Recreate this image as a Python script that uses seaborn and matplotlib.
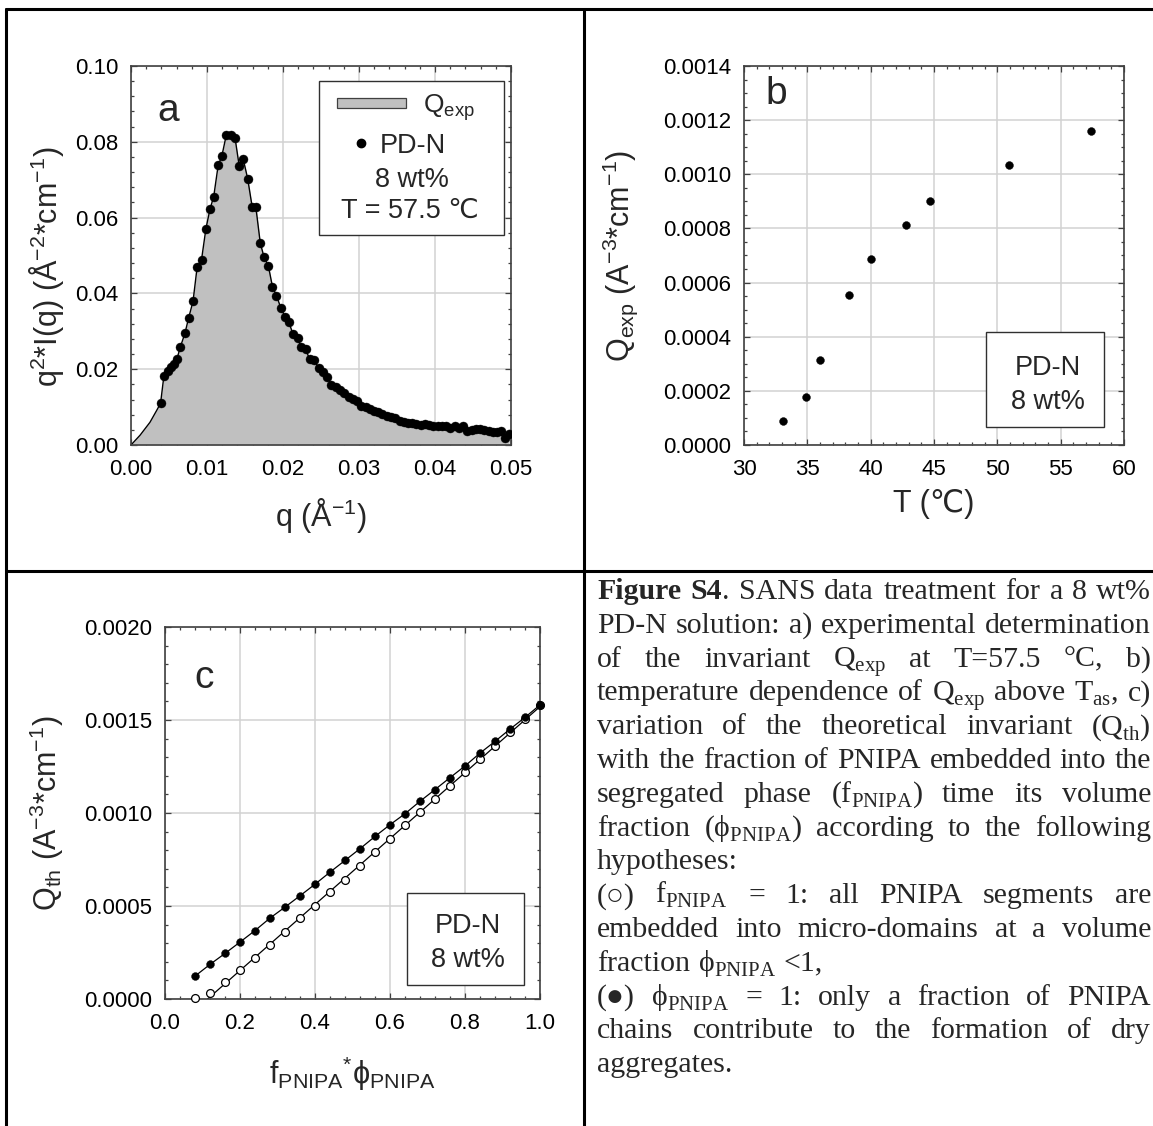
import numpy as np
import pandas as pd
import matplotlib
matplotlib.use("Agg")
import matplotlib.pyplot as plt
import seaborn as sns
from matplotlib.patches import Rectangle
from matplotlib.lines import Line2D
from matplotlib.ticker import MultipleLocator, FormatStrFormatter

# ---------------- data ----------------
# (a) Kratky representation q^2*I(q) of PD-N, 8 wt%, T = 57.5 C
q_a = [0.00389, 0.00432, 0.00481, 0.00525, 0.00564, 0.00603, 0.0065, 0.0071, 0.00758, 0.00816,
       0.0087, 0.00928, 0.00986, 0.0104, 0.01088, 0.01147, 0.01195, 0.01254, 0.01317, 0.0137,
       0.01424, 0.01477, 0.01535, 0.01594, 0.01642, 0.01701, 0.01749, 0.01808, 0.01861, 0.01914,
       0.01973, 0.02026, 0.02075, 0.02133, 0.02191, 0.0224, 0.02298, 0.02352, 0.0241, 0.02468,
       0.02522, 0.0258, 0.02638, 0.02697, 0.0275, 0.02809, 0.02862, 0.0292, 0.02974, 0.03032,
       0.0309, 0.03144, 0.03197, 0.03256, 0.03309, 0.03367, 0.0342, 0.03479, 0.03533, 0.03591,
       0.03644, 0.03703, 0.03756, 0.03814, 0.03868, 0.03926, 0.0398, 0.04038, 0.04091, 0.0415,
       0.04203, 0.04261, 0.04315, 0.04373, 0.04427, 0.04485, 0.04538, 0.04597, 0.0465, 0.04708,
       0.04762, 0.0482, 0.04874, 0.04927, 0.04976]
q2I_a = [0.0110, 0.0181, 0.0195, 0.0205, 0.0214, 0.0226, 0.0259, 0.0295, 0.0335, 0.0379,
         0.0469, 0.0489, 0.0571, 0.0623, 0.0655, 0.0738, 0.0762, 0.0818, 0.0819, 0.0809,
         0.0736, 0.0754, 0.0703, 0.0629, 0.0629, 0.0533, 0.0497, 0.0472, 0.0418, 0.0394,
         0.0361, 0.0339, 0.0325, 0.0292, 0.0283, 0.0258, 0.0252, 0.0226, 0.0224, 0.0203,
         0.0193, 0.0179, 0.0158, 0.0154, 0.0146, 0.0137, 0.0127, 0.0121, 0.0116, 0.0104,
         0.0099, 0.0094, 0.0090, 0.0087, 0.0082, 0.0077, 0.0075, 0.0071, 0.0063, 0.0061,
         0.0059, 0.0057, 0.0055, 0.0052, 0.0056, 0.0052, 0.0050, 0.0050, 0.0049, 0.0049,
         0.0046, 0.0049, 0.0046, 0.0049, 0.0038, 0.0040, 0.0042, 0.0041, 0.0040, 0.0038,
         0.0035, 0.0033, 0.0038, 0.0019, 0.0028]
# low-q extrapolation down to q = 0 (curve and shaded invariant only)
q_extrap = [0.0, 0.0012, 0.0025, 0.0034]
q2I_extrap = [0.0, 0.0026, 0.0060, 0.0092]

# (b) experimental invariant vs temperature
T_b = [33.1, 34.9, 36.0, 38.3, 40.0, 42.8, 44.7, 50.9, 57.4]
Qexp_b = [0.000089, 0.000176, 0.000313, 0.000555, 0.000688, 0.000812, 0.000902, 0.001033, 0.00116]

# (c) theoretical invariant vs f_PNIPA * phi_PNIPA
fphi_c = [0.08, 0.12, 0.16, 0.20, 0.24, 0.28, 0.32, 0.36, 0.40, 0.44, 0.48, 0.52,
          0.56, 0.60, 0.64, 0.68, 0.72, 0.76, 0.80, 0.84, 0.88, 0.92, 0.96, 1.00]
Qth_phi1 = [0.000123, 0.000186, 0.000245, 0.000306, 0.000368, 0.000435, 0.000494, 0.000555,
            0.000617, 0.000682, 0.000745, 0.000808, 0.000874, 0.000937, 0.000996, 0.001063,
            0.001126, 0.001190, 0.001253, 0.001322, 0.001385, 0.001451, 0.001514, 0.001581]
Qth_f1 = [0.000004, 0.0000336, 0.000089, 0.000156, 0.000221, 0.000290, 0.000360, 0.000433,
          0.000502, 0.000573, 0.000642, 0.000715, 0.000789, 0.000862, 0.000933, 0.001004,
          0.001075, 0.001146, 0.001219, 0.001289, 0.001358, 0.001433, 0.001504, 0.001581]

# ---------------- style ----------------
sns.set_theme(style="ticks")
SANS = ["Liberation Sans", "DejaVu Sans"]
SERIF = ["Liberation Serif", "DejaVu Sans"]
plt.rcParams["font.family"] = SANS
plt.rcParams["mathtext.fontset"] = "dejavusans"

W, H = 1153, 1126
fig = plt.figure(figsize=(W / 100, H / 100), dpi=100)
fig.patch.set_facecolor("white")


def px_axes(left, top, right, bottom):
    return fig.add_axes([left / W, 1 - bottom / H, (right - left) / W, (bottom - top) / H])


ax_a = px_axes(131, 66, 511, 445)
ax_b = px_axes(744, 66, 1124, 445)
ax_c = px_axes(165, 627, 540, 999)

TICK_FS = 16
LABEL_FS = 22
BOX_FS = 19.5
LETTER_FS = 28


def style_axes(ax, xlim, ylim, xmaj, xmin, ymaj, ymin, xfmt, yfmt):
    ax.set_xlim(*xlim)
    ax.set_ylim(*ylim)
    ax.set_facecolor("white")
    ax.xaxis.set_major_locator(MultipleLocator(xmaj))
    ax.xaxis.set_minor_locator(MultipleLocator(xmin))
    ax.yaxis.set_major_locator(MultipleLocator(ymaj))
    ax.yaxis.set_minor_locator(MultipleLocator(ymin))
    ax.xaxis.set_major_formatter(FormatStrFormatter(xfmt))
    ax.yaxis.set_major_formatter(FormatStrFormatter(yfmt))
    ax.set_axisbelow(True)
    ax.grid(True, which="major", color="#d2d2d2", lw=1.1)
    ax.tick_params(which="both", direction="in", top=True, right=True,
                   color="#404040", labelsize=TICK_FS, labelcolor="black")
    ax.tick_params(which="major", length=4.5, width=0.9)
    ax.tick_params(which="minor", length=2.3, width=0.9)
    ax.tick_params(axis="x", which="major", pad=10)
    ax.tick_params(axis="y", which="major", pad=9)
    for s in ax.spines.values():
        s.set_color("#404040")
        s.set_linewidth(1.2)


def set_labels(ax, xlabel, ylabel, xpos, ypos, ycenter=0.5):
    ax.set_xlabel(xlabel, fontsize=LABEL_FS)
    ax.set_ylabel(ylabel, fontsize=LABEL_FS)
    ax.xaxis.label.set_va("center")
    ax.yaxis.label.set_va("center")
    ax.xaxis.set_label_coords(0.5, xpos)
    ax.yaxis.set_label_coords(ypos, ycenter)


def info_box(ax, x0, y0, x1, y1):
    ax.add_patch(Rectangle((x0, y0), x1 - x0, y1 - y0, transform=ax.transAxes,
                           facecolor="white", edgecolor="#303030", lw=1.0, zorder=5))


# ---------------- (a) ----------------
q_line = q_extrap + q_a
I_line = q2I_extrap + q2I_a
ax_a.fill_between(q_line, 0, I_line, color="#c0c0c0", lw=0, zorder=1)
sns.lineplot(x=q_line, y=I_line, ax=ax_a, color="black", lw=1.0, sort=False,
             estimator=None, zorder=2)
sns.scatterplot(x=q_a, y=q2I_a, ax=ax_a, color="black", s=42, edgecolor="black",
                linewidth=0.3, zorder=3)
style_axes(ax_a, (0, 0.05), (0, 0.10), 0.01, 0.002, 0.02, 0.004, "%.2f", "%.2f")
set_labels(ax_a, r"q (Å$^{\mathregular{-1}}$)",
           r"q$^{\mathregular{2}}$*I(q) (Å$^{\mathregular{-2}}$*cm$^{\mathregular{-1}}$)",
           -0.186, -0.222, 0.47)
ax_a.text(0.098, 0.882, "a", transform=ax_a.transAxes, fontsize=LETTER_FS,
          ha="center", va="center")
info_box(ax_a, 0.494, 0.554, 0.982, 0.960)
ax_a.add_patch(Rectangle((0.542, 0.889), 0.181, 0.027, transform=ax_a.transAxes,
                         facecolor="#c0c0c0", edgecolor="#404040", lw=0.9, zorder=6))
ax_a.text(0.768, 0.878, r"Q$_{\mathregular{exp}}$", transform=ax_a.transAxes,
          fontsize=19, ha="left", va="baseline", zorder=6)
ax_a.plot([0.606], [0.797], "o", color="black", ms=6, transform=ax_a.transAxes, zorder=6)
ax_a.text(0.743, 0.790, "PD-N", transform=ax_a.transAxes, fontsize=BOX_FS,
          ha="center", va="center", zorder=6)
ax_a.text(0.738, 0.698, "8 wt%", transform=ax_a.transAxes, fontsize=BOX_FS,
          ha="center", va="center", zorder=6)
ax_a.text(0.735, 0.618, "T = 57.5 ℃", transform=ax_a.transAxes, fontsize=BOX_FS,
          ha="center", va="center", zorder=6, family=SANS)

# ---------------- (b) ----------------
sns.scatterplot(x=T_b, y=Qexp_b, ax=ax_b, color="black", s=32, edgecolor="black",
                linewidth=0.3, zorder=3)
style_axes(ax_b, (30, 60), (0, 0.0014), 5, 1, 0.0002, 0.00005, "%d", "%.4f")
set_labels(ax_b, "T (℃)",
           r"Q$_{\mathregular{exp}}$ (A$^{\mathregular{-3}}$*cm$^{\mathregular{-1}}$)",
           -0.156, -0.326)
ax_b.text(0.086, 0.925, "b", transform=ax_b.transAxes, fontsize=LETTER_FS,
          ha="center", va="center")
info_box(ax_b, 0.636, 0.047, 0.948, 0.297)
ax_b.text(0.80, 0.203, "PD-N", transform=ax_b.transAxes, fontsize=BOX_FS,
          ha="center", va="center", zorder=6)
ax_b.text(0.80, 0.113, "8 wt%", transform=ax_b.transAxes, fontsize=BOX_FS,
          ha="center", va="center", zorder=6)

# ---------------- (c) ----------------
sns.lineplot(x=fphi_c, y=Qth_phi1, ax=ax_c, color="black", lw=0.9, sort=False,
             estimator=None, zorder=2)
# straight line through the f_PNIPA = 1 series, drawn from its zero crossing
slope, icpt = np.polyfit(fphi_c[1:], Qth_f1[1:], 1)
x_fit = [-icpt / slope, fphi_c[-1]]
sns.lineplot(x=x_fit, y=[slope * v + icpt for v in x_fit], ax=ax_c, color="black",
             lw=0.9, estimator=None, zorder=2)
sns.scatterplot(x=fphi_c, y=Qth_f1, ax=ax_c, facecolor="white", edgecolor="black",
                s=32, linewidth=0.9, zorder=3, clip_on=False)
sns.scatterplot(x=fphi_c, y=Qth_phi1, ax=ax_c, color="black", edgecolor="black",
                s=32, linewidth=0.3, zorder=4, clip_on=False)
style_axes(ax_c, (0, 1.0), (0, 0.002), 0.2, 0.04, 0.0005, 0.0001, "%.1f", "%.4f")
set_labels(ax_c, r"f$_{\mathregular{PNIPA}}$$^{\mathregular{*}}$ϕ$_{\mathregular{PNIPA}}$",
           r"Q$_{\mathregular{th}}$ (A$^{\mathregular{-3}}$*cm$^{\mathregular{-1}}$)",
           -0.20, -0.315)
ax_c.text(0.103, 0.862, "c", transform=ax_c.transAxes, fontsize=LETTER_FS,
          ha="center", va="center")
info_box(ax_c, 0.645, 0.037, 0.956, 0.286)
ax_c.text(0.808, 0.195, "PD-N", transform=ax_c.transAxes, fontsize=BOX_FS,
          ha="center", va="center", zorder=6)
ax_c.text(0.808, 0.104, "8 wt%", transform=ax_c.transAxes, fontsize=BOX_FS,
          ha="center", va="center", zorder=6)

# ---------------- frame of the figure table ----------------
def hline(y, x0, x1):
    fig.add_artist(Line2D([x0 / W, x1 / W], [1 - y / H, 1 - y / H], color="black",
                          lw=2.2, transform=fig.transFigure))


def vline(x, y0, y1):
    fig.add_artist(Line2D([x / W, x / W], [1 - y0 / H, 1 - y1 / H], color="black",
                          lw=2.2, transform=fig.transFigure))


hline(9, 6, W)
hline(571, 6, W)
vline(6, 9, H)
vline(584, 9, H)

# ---------------- caption (justified) ----------------
def sub(s):
    return r"$_{\mathregular{%s}}$" % s


caption_lines = [
    ([[("Figure", "bold")], [("S4", "bold"), (".", "normal")], "SANS", "data",
      "treatment", "for", "a", "8", "wt%"], True),
    (["PD-N", "solution:", "a)", "experimental", "determination"], True),
    (["of", "the", "invariant", "Q" + sub("exp"), "at", "T=57.5", "°C,", "b)"], True),
    (["temperature", "dependence", "of", "Q" + sub("exp"), "above", "T" + sub("as") + ",",
      "c)"], True),
    (["variation", "of", "the", "theoretical", "invariant", "(Q" + sub("th") + ")"], True),
    (["with", "the", "fraction", "of", "PNIPA", "embedded", "into", "the"], True),
    (["segregated", "phase", "(f" + sub("PNIPA") + ")", "time", "its", "volume"], True),
    (["fraction", "(ϕ" + sub("PNIPA") + ")", "according", "to", "the", "following"], True),
    (["hypotheses:"], False),
    (["(○)", "f" + sub("PNIPA"), "=", "1:", "all", "PNIPA", "segments", "are"], True),
    (["embedded", "into", "micro-domains", "at", "a", "volume"], True),
    (["fraction", "ϕ" + sub("PNIPA"), "<1,"], False),
    (["(●)", "ϕ" + sub("PNIPA"), "=", "1:", "only", "a", "fraction", "of", "PNIPA"], True),
    (["chains", "contribute", "to", "the", "formation", "of", "dry"], True),
    (["aggregates."], False),
]

CAP_FS = 21.5
X_LEFT, X_RIGHT = 597, 1151
Y_FIRST, DY = 599, 33.8
renderer = fig.canvas.get_renderer()


def measure(s, weight):
    t = fig.text(0, 0, s, fontsize=CAP_FS, family=SERIF, weight=weight)
    w = t.get_window_extent(renderer=renderer).width
    t.remove()
    return w


space_w = measure("a a", "normal") - measure("aa", "normal")

for i, (words, justify) in enumerate(caption_lines):
    y = Y_FIRST + i * DY
    segs_per_word = []
    widths = []
    for w in words:
        segs = [(w, "normal")] if isinstance(w, str) else w
        seg_w = [measure(s, wt) for s, wt in segs]
        segs_per_word.append(list(zip(segs, seg_w)))
        widths.append(sum(seg_w))
    if justify and len(words) > 1:
        gap = (X_RIGHT - X_LEFT - sum(widths)) / (len(words) - 1)
    else:
        gap = space_w
    x = X_LEFT
    for word, ww in zip(segs_per_word, widths):
        xx = x
        for (s, wt), sw in word:
            fig.text(xx / W, 1 - y / H, s, fontsize=CAP_FS, family=SERIF, weight=wt,
                     ha="left", va="baseline")
            xx += sw
        x += ww + gap

fig.savefig("out.png", dpi=100, facecolor="white")
